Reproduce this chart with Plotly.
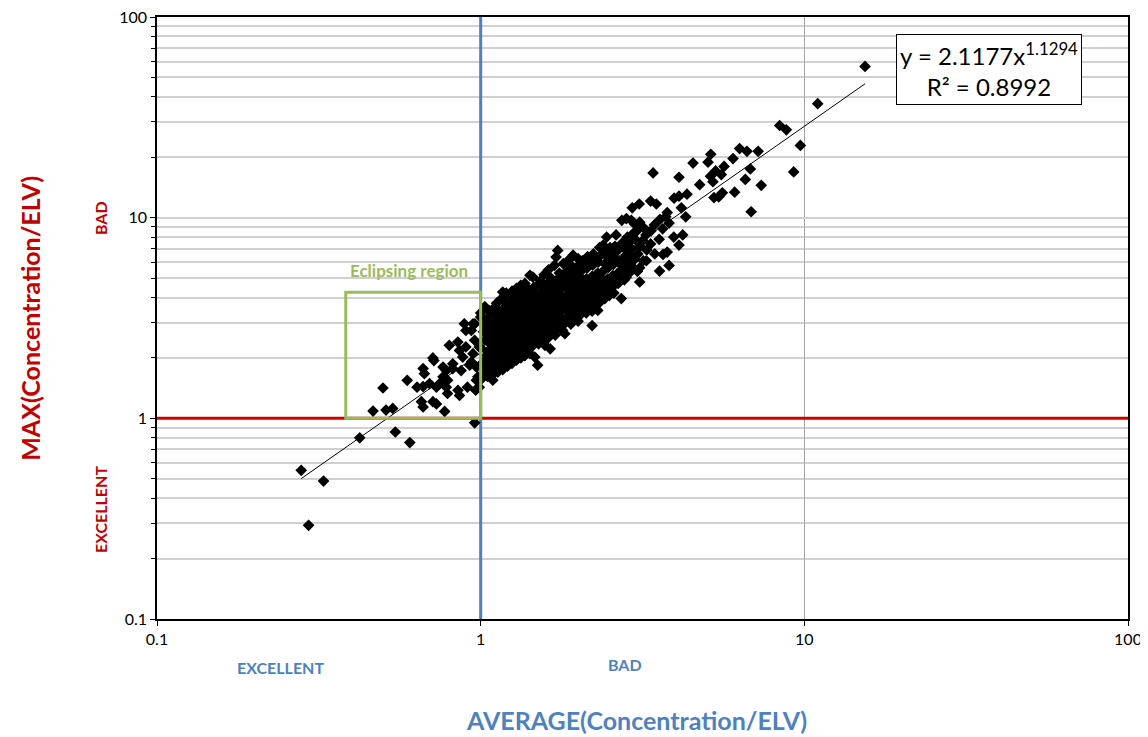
import plotly.graph_objects as go

# ---------------- data ----------------
# points in / near the "eclipsing region" (x < 1)
eclipse_points = [
    (0.465, 1.087), (0.51, 1.10), (0.535, 1.12), (0.499, 1.416), (0.593, 1.547),
    (0.774, 1.083), (0.664, 1.14), (0.656, 1.21), (0.712, 1.21), (0.73, 1.18),
    (0.851, 1.38), (0.636, 1.43), (0.664, 1.44), (0.67, 1.67), (0.664, 1.77),
    (0.717, 1.94), (0.712, 2.0), (0.73, 1.43), (0.747, 1.49), (0.783, 1.43),
    (0.79, 1.55), (0.765, 1.61), (0.783, 1.73), (0.82, 1.77), (0.87, 1.73),
    (0.80, 2.31), (0.85, 2.40), (0.86, 2.18), (0.90, 2.27), (0.947, 2.10),
    (0.925, 1.84), (0.89, 2.96), (0.947, 2.96), (0.936, 2.74), (0.99, 1.43),
    (0.98, 1.61), (1.01, 1.88), (0.99, 2.27), (1.0, 3.2), (1.04, 2.65),
    (0.96, 2.96), (0.97, 1.55), (0.97, 1.8), (0.695, 1.49), (0.82, 1.87),
    (0.88, 2.02), (0.936, 1.91), (0.958, 2.45), (0.90, 2.74), (1.0, 3.35),
    (0.765, 1.8), (0.79, 1.33), (0.86, 1.30), (0.91, 1.43), (0.965, 1.38),
    (0.985, 1.43),
]

# low outliers
low_points = [
    (0.279, 0.551), (0.294, 0.293), (0.327, 0.487), (0.423, 0.80),
    (0.545, 0.855), (0.604, 0.757), (0.958, 0.95),
]

# main cloud
core_points = [
    (1.01, 1.58), (1.02, 1.9), (1.00, 2.25), (1.02, 2.7), (1.01, 3.15),
    (1.03, 1.72), (1.04, 2.05), (1.04, 2.9), (1.03, 3.6),
    (1.05, 1.62), (1.06, 1.85), (1.05, 2.15), (1.05, 3.05), (1.06, 3.45),
    (1.07, 1.78), (1.07, 2.35), (1.08, 2.75), (1.07, 3.25),
    (1.09, 1.55), (1.10, 1.68), (1.09, 1.95), (1.09, 2.55), (1.10, 2.95), (1.09, 3.5),
    (1.11, 1.85), (1.12, 2.1), (1.11, 2.45), (1.11, 3.2), (1.12, 3.75),
    (1.13, 1.7), (1.14, 2.0), (1.14, 2.65), (1.13, 3.05), (1.14, 3.4),
    (1.15, 1.9), (1.16, 2.2), (1.15, 2.5), (1.15, 3.3), (1.16, 3.95),
    (1.17, 1.75), (1.17, 2.4), (1.18, 2.7), (1.18, 3.55), (1.17, 4.26),
    (1.19, 1.95), (1.20, 2.25), (1.20, 2.95), (1.19, 3.35), (1.20, 3.8),
    (1.21, 1.82), (1.22, 2.1), (1.22, 2.8), (1.21, 3.2), (1.22, 3.65), (1.20, 4.21),
    (1.23, 2.0), (1.24, 2.3), (1.23, 2.65), (1.23, 3.45), (1.24, 3.9),
    (1.25, 1.88), (1.26, 2.15), (1.26, 2.85), (1.25, 3.25), (1.26, 3.7), (1.25, 4.3),
    (1.27, 2.05), (1.28, 2.4), (1.28, 3.1), (1.27, 3.55), (1.28, 4.0),
    (1.29, 1.95), (1.30, 2.25), (1.29, 2.6), (1.29, 3.35), (1.30, 3.8), (1.29, 4.45),
    (1.31, 2.1), (1.32, 2.45), (1.32, 3.2), (1.31, 3.6), (1.32, 4.1),
    (1.33, 2.0), (1.34, 2.3), (1.34, 3.0), (1.33, 3.45), (1.34, 3.9), (1.33, 4.6),
    (1.35, 2.15), (1.36, 2.5), (1.35, 2.85), (1.35, 3.7), (1.36, 4.25),
    (1.37, 2.05), (1.38, 2.35), (1.38, 3.1), (1.37, 3.5), (1.38, 3.95), (1.37, 4.7),
    (1.39, 2.2), (1.40, 2.55), (1.39, 2.95), (1.39, 3.8), (1.40, 4.4),
    (1.42, 2.1), (1.43, 2.4), (1.41, 2.8), (1.42, 3.6), (1.41, 4.05), (1.42, 5.16),
    (1.45, 2.3), (1.44, 2.65), (1.44, 3.45), (1.45, 3.9), (1.46, 4.5), (1.45, 5.06),
    (1.47, 2.02), (1.48, 2.5), (1.49, 3.3), (1.48, 3.75), (1.47, 4.25),
    (1.50, 1.84), (1.51, 2.35), (1.50, 2.7), (1.52, 3.1), (1.50, 4.0), (1.52, 4.7),
    (1.53, 2.45), (1.54, 2.8), (1.55, 3.7), (1.54, 4.2), (1.53, 4.85),
    (1.56, 2.4), (1.57, 2.6), (1.56, 2.95), (1.58, 3.4), (1.56, 4.4), (1.57, 5.2),
    (1.58, 2.31), (1.59, 2.7), (1.59, 3.55), (1.60, 4.0), (1.58, 4.6),
    (1.61, 2.5), (1.62, 2.85), (1.63, 3.25), (1.62, 4.2), (1.63, 4.8), (1.62, 5.5),
    (1.64, 2.22), (1.65, 2.65), (1.64, 3.4), (1.65, 3.9), (1.66, 4.4), (1.65, 5.0),
    (1.67, 2.75), (1.68, 3.15), (1.67, 4.1), (1.68, 4.65), (1.69, 5.79),
    (1.70, 2.6), (1.71, 2.9), (1.72, 3.3), (1.71, 4.3), (1.72, 4.9), (1.71, 6.36),
    (1.73, 2.8), (1.74, 3.2), (1.75, 3.65), (1.74, 4.7), (1.75, 5.3), (1.73, 6.87),
    (1.76, 2.95), (1.78, 3.85), (1.76, 4.4), (1.77, 5.0),
    (1.79, 2.75), (1.80, 3.1), (1.81, 3.55), (1.80, 4.6), (1.81, 5.25), (1.80, 5.9),
    (1.82, 2.64), (1.83, 3.0), (1.82, 3.95), (1.83, 4.5), (1.84, 5.1),
    (1.86, 3.2), (1.87, 3.65), (1.88, 4.2), (1.87, 5.5), (1.88, 6.2),
    (1.90, 2.95), (1.91, 3.35), (1.90, 4.4), (1.91, 5.0), (1.92, 5.7),
    (1.93, 3.1), (1.94, 3.55), (1.95, 4.1), (1.94, 5.3), (1.93, 6.5),
    (1.97, 3.25), (1.98, 3.75), (1.97, 4.9), (1.98, 5.6),
    (2.00, 3.05), (2.01, 3.45), (2.02, 3.95), (2.00, 4.5), (2.02, 5.85), (2.00, 6.25),
    (2.04, 3.3), (2.05, 3.7), (2.04, 4.8), (2.05, 5.45), (2.06, 6.1),
    (2.08, 3.5), (2.09, 4.0), (2.10, 4.55), (2.09, 5.9),
    (2.12, 3.35), (2.13, 3.8), (2.12, 4.95), (2.13, 5.6), (2.14, 6.4),
    (2.16, 3.6), (2.17, 4.1), (2.18, 4.7), (2.17, 6.0),
    (2.21, 3.42), (2.22, 3.9), (2.21, 5.1), (2.22, 5.8), (2.23, 6.6), (2.21, 2.9),
    (2.25, 3.75), (2.26, 4.3), (2.27, 4.9), (2.26, 6.3),
    (2.30, 3.45), (2.31, 4.05), (2.30, 5.3), (2.31, 6.0), (2.33, 7.1), (2.34, 3.8),
    (2.35, 4.4), (2.36, 5.0), (2.35, 6.5),
    (2.38, 4.15), (2.39, 4.8), (2.40, 5.45), (2.39, 7.3),
    (2.42, 3.95), (2.43, 4.55), (2.42, 5.9), (2.43, 6.7),
    (2.46, 4.3), (2.47, 4.95), (2.48, 5.65), (2.46, 6.4), (2.45, 8.0),
    (2.50, 4.1), (2.51, 4.7), (2.50, 6.1), (2.51, 7.1),
    (2.55, 4.5), (2.56, 5.15), (2.57, 5.85), (2.55, 6.6),
    (2.58, 4.21), (2.60, 4.9), (2.59, 6.35), (2.60, 7.2), (2.62, 8.2),
    (2.66, 4.7), (2.67, 5.35), (2.65, 6.1), (2.66, 6.9),
    (2.72, 3.95), (2.71, 5.1), (2.73, 5.8), (2.74, 7.5), (2.73, 9.7),
    (2.78, 4.9), (2.79, 5.55), (2.77, 6.3), (2.78, 7.2),
    (2.82, 5.05), (2.83, 6.0), (2.81, 6.9), (2.84, 8.0), (2.82, 9.9),
    (2.88, 5.3), (2.89, 6.5), (2.87, 7.5),
    (2.94, 5.7), (2.93, 7.0), (2.95, 8.3), (2.94, 11.2), (2.92, 9.7),
    (2.99, 6.2), (3.00, 7.8), (2.99, 9.3),
    (3.05, 5.4), (3.06, 6.6), (3.04, 8.6),
    (3.10, 4.78), (3.10, 5.63), (3.11, 7.2), (3.10, 9.5), (3.09, 11.7),
    (3.18, 6.1), (3.17, 7.7), (3.19, 8.9),
    (3.25, 6.1), (3.26, 6.9), (3.24, 8.2),
    (3.35, 7.4), (3.36, 8.6), (3.35, 12.1),
    (3.45, 6.6), (3.44, 9.2), (3.49, 11.7),
    (3.57, 5.42), (3.56, 7.8), (3.58, 9.8),
    (3.66, 6.56), (3.65, 8.8),
    (3.77, 6.74), (3.77, 10.6), (3.73, 10.1),
    (3.82, 5.78), (3.82, 9.4),
    (3.95, 8.0), (3.96, 12.5),
    (4.10, 7.3), (4.10, 12.8),
    (4.17, 11.2), (4.21, 8.2), (4.30, 10.1), (4.34, 13.1),
]

# the densest part of the cloud (x about 1.0 - 2.4)
dense_points = [
    (1.03, 2.45), (1.06, 2.6), (1.08, 2.0), (1.10, 2.2), (1.12, 2.8), (1.13, 2.3),
    (1.16, 2.85), (1.18, 2.05), (1.17, 3.1), (1.19, 2.6), (1.21, 2.45), (1.24, 3.0),
    (1.25, 2.5), (1.27, 2.75), (1.30, 2.95), (1.31, 2.8), (1.33, 2.65), (1.36, 3.25),
    (1.37, 2.7), (1.40, 3.35), (1.43, 3.2), (1.46, 3.0), (1.47, 2.85), (1.51, 3.55),
    (1.53, 3.25), (1.57, 3.85), (1.60, 3.1), (1.61, 3.7), (1.66, 3.0), (1.69, 3.6),
    (1.70, 3.75), (1.73, 4.15), (1.77, 3.4), (1.79, 4.05), (1.84, 3.45), (1.86, 4.8),
    (1.92, 3.85), (1.93, 4.65), (1.99, 4.3), (2.01, 5.15), (2.06, 4.2), (2.14, 4.35),
    (2.23, 4.5), (2.32, 4.65),
]

# upper tail
tail_points = [
    (3.41, 16.7), (4.1, 15.9), (4.53, 18.7), (4.75, 14.6), (5.04, 18.9), (5.14, 20.7),
    (5.13, 16.1), (5.22, 15.1), (5.26, 12.6), (5.32, 17.1), (5.44, 12.7), (5.54, 16.4),
    (5.58, 13.3), (5.65, 18.0), (6.02, 19.7), (6.09, 13.4), (6.31, 22.1), (6.57, 15.5),
    (6.65, 21.4), (6.81, 17.5), (6.85, 10.7), (7.2, 21.4), (7.36, 14.5), (8.39, 28.8),
    (8.8, 27.4), (9.27, 16.9), (9.72, 22.9), (11.0, 37.0), (15.4, 56.7),
]

# power trendline shown on the chart
trend_coef = 2.1177
trend_exp = 1.1294
trend_r2 = 0.8992
trend_x_range = [0.279, 15.4]

# eclipsing region box (x from, x to, y from, y to)
eclipse_box = [0.383, 1.0, 1.0, 4.25]

axis_range = [0.1, 100]
tick_values = [0.1, 1, 10, 100]
tick_labels = ["0.1", "1", "10", "100"]
minor_values = [m * d for d in (0.1, 1, 10) for m in range(2, 10)]

# ---------------- figure ----------------
all_points = eclipse_points + low_points + core_points + dense_points + tail_points
xs = [p[0] for p in all_points]
ys = [p[1] for p in all_points]

FONT = "Lato"
RED = "#C00000"
BLUE = "#4F81BD"
GREEN = "#9BBB59"

fig = go.Figure()

# reference lines at 1 (drawn first, so the points sit on top)
fig.add_trace(go.Scatter(x=[1, 1], y=axis_range, mode="lines",
                         line=dict(color=BLUE, width=3), showlegend=False, hoverinfo="skip"))
fig.add_trace(go.Scatter(x=axis_range, y=[1, 1], mode="lines",
                         line=dict(color="#CC0000", width=3), showlegend=False, hoverinfo="skip"))

# trendline
n = 60
lo, hi = trend_x_range
tx = [lo * (hi / lo) ** (i / n) for i in range(n + 1)]
ty = [trend_coef * v ** trend_exp for v in tx]

fig.add_trace(go.Scatter(
    x=xs, y=ys, mode="markers",
    marker=dict(symbol="diamond", size=9, color="black", line=dict(width=0)),
    showlegend=False, hoverinfo="x+y",
))
fig.add_trace(go.Scatter(
    x=tx, y=ty, mode="lines", line=dict(color="black", width=1),
    showlegend=False, hoverinfo="skip",
))

# eclipsing region rectangle
fig.add_shape(type="rect", xref="x", yref="y",
              x0=eclipse_box[0], x1=eclipse_box[1], y0=eclipse_box[2], y1=eclipse_box[3],
              line=dict(color=GREEN, width=3), fillcolor="rgba(0,0,0,0)", layer="above")

annotations = [
    dict(text="<b>Eclipsing region</b>", x=-0.222, y=0.737, xref="x", yref="y",
         xanchor="center", yanchor="middle",
         showarrow=False, font=dict(family=FONT, size=17, color=GREEN)),
    dict(text=f"y = {trend_coef}x<sup>{trend_exp}</sup><br>R² = {trend_r2}",
         xref="paper", yref="paper", x=0.857, y=0.913, xanchor="center", yanchor="middle",
         showarrow=False,
         font=dict(family=FONT, size=24, color="black"), align="center",
         bgcolor="white", bordercolor="black", borderwidth=1, borderpad=3),
    dict(text="<b>AVERAGE(Concentration/ELV)</b>", xref="paper", yref="paper",
         x=0.494, y=-0.168, xanchor="center", yanchor="middle", showarrow=False,
         font=dict(family=FONT, size=25, color=BLUE)),
    dict(text="<b>MAX(Concentration/ELV)</b>", xref="paper", yref="paper",
         x=-0.131, y=0.5, xanchor="center", yanchor="middle", showarrow=False, textangle=-90,
         font=dict(family=FONT, size=25, color=RED)),
    dict(text="<b>EXCELLENT</b>", xref="paper", yref="paper", x=0.127, y=-0.081,
         xanchor="center", yanchor="middle",
         showarrow=False, font=dict(family=FONT, size=16, color=BLUE)),
    dict(text="<b>BAD</b>", xref="paper", yref="paper", x=0.482, y=-0.075,
         xanchor="center", yanchor="middle",
         showarrow=False, font=dict(family=FONT, size=16, color=BLUE)),
    dict(text="<b>BAD</b>", xref="paper", yref="paper", x=-0.0587, y=0.666,
         xanchor="center", yanchor="middle",
         showarrow=False, textangle=-90, font=dict(family=FONT, size=16, color=RED)),
    dict(text="<b>EXCELLENT</b>", xref="paper", yref="paper", x=-0.0587, y=0.181,
         xanchor="center", yanchor="middle",
         showarrow=False, textangle=-90, font=dict(family=FONT, size=16, color=RED)),
]

# the page puts the figure 8 px in from its top-left corner
fig.update_layout(
    width=1140, height=729,
    margin=dict(l=149, r=20, t=9, b=118, autoexpand=False),
    paper_bgcolor="white", plot_bgcolor="white",
    font=dict(family=FONT, size=15, color="black"),
    annotations=annotations,
    xaxis=dict(
        type="log", range=[-1, 2], tickmode="array", tickvals=tick_values, ticktext=tick_labels,
        showgrid=True, gridcolor="#A6A6A6", gridwidth=1, automargin=False,
        ticklabeloverflow="allow",
        showline=True, linecolor="black", linewidth=1.5, mirror=True,
        ticks="outside", ticklen=5, tickcolor="black", zeroline=False,
        tickfont=dict(family=FONT, size=16, color="black"),
    ),
    yaxis=dict(
        type="log", range=[-1, 2], tickmode="array", tickvals=tick_values, ticktext=tick_labels,
        showgrid=True, gridcolor="#D0D0D0", gridwidth=1.5, automargin=False,
        ticklabeloverflow="allow",
        showline=True, linecolor="black", linewidth=1.5, mirror=True,
        ticks="outside", ticklen=5, tickcolor="black", zeroline=False,
        tickfont=dict(family=FONT, size=16, color="black"),
        minor=dict(tickmode="array", tickvals=minor_values, showgrid=True,
                   gridcolor="#D0D0D0", gridwidth=1.5, ticks="outside", ticklen=4,
                   tickcolor="black"),
    ),
)

fig.write_html("out.html")
